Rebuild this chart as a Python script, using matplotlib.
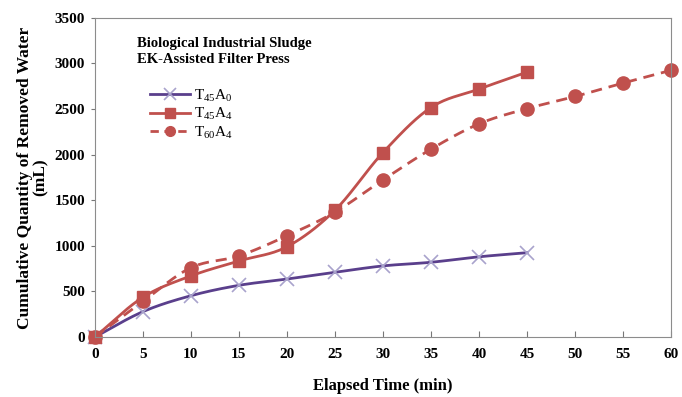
import numpy as np
import matplotlib
matplotlib.use("Agg")
import matplotlib.pyplot as plt
from matplotlib.lines import Line2D

time_a = [0, 5, 10, 15, 20, 25, 30, 35, 40, 45]
t45a0 = [0, 278, 453, 567, 636, 710, 780, 820, 880, 925]
t45a4 = [0, 436, 670, 834, 990, 1390, 2023, 2517, 2719, 2905]
time_b = [0, 5, 10, 15, 20, 25, 30, 35, 40, 45, 50, 55, 60]
t60a4 = [0, 390, 760, 890, 1110, 1370, 1723, 2060, 2338, 2505, 2638, 2785, 2925]

plt.rcParams['font.family'] = ['Liberation Serif', 'DejaVu Serif']
plt.rcParams['mathtext.fontset'] = 'custom'
plt.rcParams['mathtext.rm'] = 'Liberation Serif'
plt.rcParams['mathtext.it'] = 'Liberation Serif:italic'
plt.rcParams['mathtext.bf'] = 'Liberation Serif:bold'


def smooth(x, y, n=20):
    x = np.asarray(x, float); y = np.asarray(y, float)
    P = np.column_stack([x, y])
    P = np.vstack([P[0] - (P[1] - P[0]), P, P[-1] + (P[-1] - P[-2])])
    out = []
    t = np.linspace(0, 1, n)[:, None]
    for i in range(1, len(P) - 2):
        p0, p1, p2, p3 = P[i - 1], P[i], P[i + 1], P[i + 2]
        c1 = p1 + (p2 - p0) / 6
        c2 = p2 - (p3 - p1) / 6
        seg = ((1 - t) ** 3) * p1 + 3 * ((1 - t) ** 2) * t * c1 + 3 * (1 - t) * t ** 2 * c2 + t ** 3 * p2
        out.append(seg if i == 1 else seg[1:])
    S = np.vstack(out)
    return S[:, 0], S[:, 1]


purple = '#5a3f8c'
xmark = '#a9a3cc'
red = '#c0504d'

fig = plt.figure(figsize=(6.82, 3.97), dpi=100)
ax = fig.add_axes([0.139, 0.151, 0.845, 0.804])

sx, sy = smooth(time_a, t45a0)
ax.plot(sx, sy, color=purple, lw=2)
ax.plot(time_a, t45a0, ls='none', marker='x', ms=10, mew=1.2, color=xmark)

sx, sy = smooth(time_a, t45a4)
ax.plot(sx, sy, color=red, lw=2)
ax.plot(time_a, t45a4, ls='none', marker='s', ms=8, color=red)

sx, sy = smooth(time_b, t60a4)
ax.plot(sx, sy, color=red, lw=2, ls=(0, (4, 2.5)))
ax.plot(time_b, t60a4, ls='none', marker='o', ms=9.5, color=red)

ax.set_xlim(0, 60)
ax.set_ylim(0, 3500)
ax.set_xticks(range(0, 61, 5))
ax.set_yticks(range(0, 3501, 500))
for s in ax.spines.values():
    s.set_color('#8c8c8c')
ax.tick_params(axis='x', direction='in', length=4, color='#777777', labelsize=11, pad=8)
ax.tick_params(axis='y', direction='out', length=3, color='#777777', labelsize=11, pad=4)
for lab in ax.get_xticklabels() + ax.get_yticklabels():
    lab.set_fontweight('bold')
for l in ax.lines:
    l.set_clip_on(False)

ax.set_xlabel('Elapsed Time (min)', fontsize=12, fontweight='bold', labelpad=12)
ax.set_ylabel('Cumulative Quantity of Removed Water\n(mL)', fontsize=12.5, fontweight='bold',
              labelpad=4, linespacing=1.0)

ax.text(0.073, 0.94, 'Biological Industrial Sludge\nEK-Assisted Filter Press', transform=ax.transAxes,
        fontsize=10.5, fontweight='bold', va='top', ha='left', linespacing=1.25)

handles = [
    Line2D([], [], color=purple, lw=2, marker='x', ms=9, mew=1.2, mec=xmark),
    Line2D([], [], color=red, lw=2, marker='s', ms=7),
    Line2D([], [], color=red, lw=2, ls=(0, (3, 2)), marker='o', ms=7),
]
labels = ['T$_{45}$A$_0$', 'T$_{45}$A$_4$', 'T$_{60}$A$_4$']
leg = ax.legend(handles, labels, loc='upper left', bbox_to_anchor=(0.085, 0.80), frameon=False,
                prop={'family': 'Liberation Serif', 'weight': 'normal', 'size': 11},
                handlelength=2.6, handletextpad=0.3, labelspacing=0.15, borderaxespad=0)

fig.savefig('out.png', dpi=100)
